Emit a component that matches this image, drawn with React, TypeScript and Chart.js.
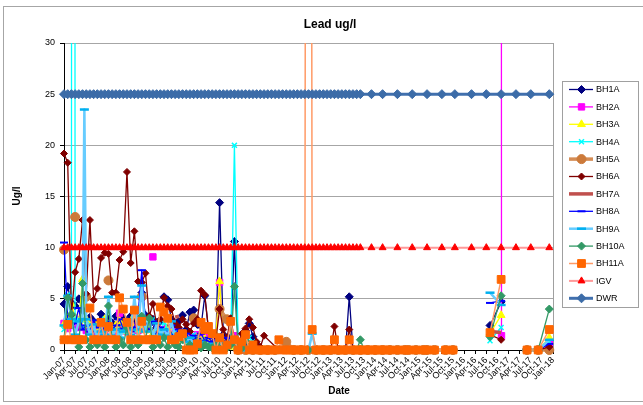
import React, { useEffect, useRef } from "react";
import { Chart, registerables } from "chart.js";
import { drawPoint } from "chart.js/helpers";

Chart.register(...registerables);

// x values are months counted from Jan-07
const quarterLabels = [
  "Jan-07", "Apr-07", "Jul-07", "Oct-07", "Jan-08", "Apr-08", "Jul-08", "Oct-08",
  "Jan-09", "Apr-09", "Jul-09", "Oct-09", "Jan-10", "Apr-10", "Jul-10", "Oct-10",
  "Jan-11", "Apr-11", "Jul-11", "Oct-11", "Jan-12", "Apr-12", "Jul-12", "Oct-12",
  "Jan-13", "Apr-13", "Jul-13", "Oct-13", "Jan-14", "Apr-14", "Jul-14", "Oct-14",
  "Jan-15", "Apr-15", "Jul-15", "Oct-15", "Jan-16", "Apr-16", "Jul-16", "Oct-16",
  "Jan-17", "Apr-17", "Jul-17", "Oct-17", "Jan-18",
];

const allMonths = [
  0, 1, 2, 3, 4, 5, 6, 7, 8, 9, 10, 11, 12, 13, 14, 15, 16, 17, 18, 19,
  20, 21, 22, 23, 24, 25, 26, 27, 28, 29, 30, 31, 32, 33, 34, 35, 36, 37, 38, 39,
  40, 41, 42, 43, 44, 45, 46, 47, 48, 49, 50, 51, 52, 53, 54, 55, 56, 57, 58, 59,
  60, 61, 62, 63, 64, 65, 66, 67, 68, 69, 70, 71, 72, 73, 74, 75, 76, 77, 78, 79,
  80, 81, 82, 83, 84, 85, 86, 87, 88,
];
const earlyMonths = allMonths.slice(0, 55);

const bh1aMonths = [...earlyMonths, 58, 62, 66, 70, 73, 76, 77, 78, 82, 86, 100, 115, 118, 122, 125, 128, 131];
const bh1aValues = [
  4.5, 6.2, 4.6, 4.3, 5.0, 3.9, 3.0, 3.2, 2.8, 2.6,
  3.5, 2.9, 3.0, 2.6, 3.3, 2.4, 3.1, 2.8, 3.3, 2.7,
  3.2, 5.6, 3.4, 2.5, 3.0, 2.2, 2.8, 5.2, 4.9, 3.0,
  2.4, 2.8, 3.4, 2.0, 3.7, 3.9, 2.5, 2.3, 5.3, 2.0,
  1.2, 0.8, 14.4, 1.5, 0.9, 1.2, 10.6, 0.6, 0.5, 1.9,
  2.6, 1.3, 0.5, 0, 0,
  0, 0, 0, 0, 0, 0, 5.2, 0, 0, 0, null, 2.4, 4.7, null, 0, 0, 0.9,
];

const bh2aMonths = [...earlyMonths, 58, 66, 74, 82, 100, 117.8, 118.1, 122, 125, 128, 131];
const bh2aValues = [
  2.6, 2.1, 2.4, 3.0, 2.2, null, 1.9, 2.5, 2.0, 1.7,
  2.2, 1.9, 2.4, 2.1, 1.7, 3.6, 2.0, 1.8, 2.4, 2.2,
  1.9, 2.6, 2.0, null, 9.1, null, 1.8, 2.0, 2.2, 1.5,
  1.8, 1.4, 1.6, 1.2, 1.0, 1.3, 1.5, 1.1, 1.4, 1.0,
  0.8, 1.2, 6.6, 1.0, 0.8, 0.5, 1.4, 0.5, 0, 0,
  0, 0, 0, 0, 0,
  0, 0, 0, 0, null, 320, 1.4, null, 0, 0, 0.6,
];

const bh3aMonths = [...earlyMonths, 100, 115, 118, 122, 125, 128, 131];
const bh3aValues = [
  2.5, 3.0, 4.5, 3.2, 2.8, 6.9, 3.0, 2.4, 2.0, 2.6,
  2.2, 3.0, 2.5, 2.0, 2.4, 2.8, 2.1, 1.8, 2.6, 3.4,
  2.0, 2.4, 1.9, 2.2, 1.6, 2.0, 1.5, 1.8, 2.2, 1.4,
  1.2, 1.6, 1.0, 1.3, 0.8, 1.0, 1.2, 0.9, 1.1, 0.6,
  0.8, 1.5, 6.7, 1.0, 0.5, 0.3, 0.5, 0.2, 0, 0,
  0, 0, 0, 0, 0,
  null, 1.6, 3.4, null, 0, 0, 1.2,
];

const bh4aMonths = [0, 1, 2, 2.5, ...earlyMonths.slice(3), 100, 115, 118, 122, 125, 128, 131];
const bh4aValues = [
  2.0, 5.4, 3.0, 420,
  2.8, 3.0, 2.2, 2.5, 1.8, 2.0, 1.5, 2.2, 3.0, 2.6,
  1.8, 2.0, 1.5, 2.2, 1.8, 2.5, 2.0, 1.6, 3.0, 2.4,
  3.0, 3.0, 2.0, 1.6, 2.7, 2.0, 1.5, 1.8, 1.2, 1.0,
  0.5, 0.8, 1.5, 0.5, 0.3, 0.8, 0.5, 0.2, 0.5, 1.0,
  0.5, 0.3, 0.8, 20.0, 0.5, 0.2, 0.6, 1.2, 0.8, 0,
  0, 0,
  null, 0.9, 2.2, null, 0, 0, 0.8,
];

const bh5aMonths = [
  0, 1, 3, 4, 6, 7, 12, 13, 21, 22, 35, 36, 42, 44, 47, 49, 51, 53, 55, 57,
  60, 62, 64, 66, 68, 70, 72, 74, 76, 78, 80, 82, 84, 86, 88, 90, 92, 93, 95, 97,
  98, 100, 103, 105, 110, 125, 128, 131,
];
const bh5aValues = [
  9.8, null, 13.0, null, 5.2, null, 6.8, null, 5.2, null, 3.1, null, 4.0, 3.0, 0, 0, 0, 0, 0, 0,
  0.8, 0, 0, 0, 0, 0, 0, 0, 0, 0, 0, 0, 0, 0, 0, 0, 0, 0, 0, 0,
  0, 0, 0, 0, null, 0, 0, 0,
];

const bh6aMonths = [...earlyMonths, 58, 62, 66, 70, 72, 73, 74, 76, 77, 78, 82, 86, 100, 115, 118, 122, 125, 128, 131];
const bh6aValues = [
  19.2, 18.3, 3.4, 7.6, 8.9, 12.7, 5.5, 12.7, 4.9, 6.0,
  9.0, 9.5, 9.4, 5.6, 5.6, 8.8, 9.6, 17.4, 8.5, 11.6,
  6.7, 6.6, 7.5, 3.3, 4.5, 2.5, 3.0, 5.1, 4.3, 4.0,
  2.6, 2.2, 3.0, 2.5, 1.8, 2.6, 3.0, 5.8, 5.4, 2.0,
  1.5, 1.0, 4.0, 2.0, 1.2, 3.1, 1.0, 0.5, 1.6, 2.1,
  3.0, 2.2, 0.8, 0.3, 1.4,
  0, 0, 0, 0, 0, 2.3, 0, 0, 2.0, 0, 0, 0, null, 1.5, 1.0, null, 0, 0, 0.3,
];

const bh7aMonths = [30, 31, 40, 115, 118];
const bh7aValues = [3.2, 3.3, null, 1.8, 1.7];

const bh8aMonths = [...earlyMonths, 100, 115, 118, 122, 125, 128, 131];
const bh8aValues = [
  10.5, 3.0, 2.2, 2.6, 4.1, 2.0, 2.4, 1.8, 2.9, 2.2,
  2.5, 1.9, 2.8, 2.0, 2.4, 3.0, 2.1, 2.6, 1.8, 2.2,
  3.5, 7.8, 2.5, 2.0, 2.8, 1.6, 2.2, 2.0, 1.7, 2.4,
  1.5, 2.0, 1.2, 1.6, 1.0, 1.4, 1.1, 1.6, 0.9, 1.2,
  0.8, 1.0, 1.5, 0.7, 1.2, 0.5, 1.0, 0.4, 0.2, 0,
  0.5, 0, 0, 0, 0,
  null, 4.6, 4.8, null, 0, 0, 0.6,
];

const bh9aMonths = [...earlyMonths.slice(0, 6), 5.5, ...earlyMonths.slice(6), 66, 67, 68, 100, 115, 118, 122, 125, 128, 131];
const bh9aValues = [
  2.4, 5.3, 3.0, 1.5, 2.8, 3.0, 23.5,
  3.0, 1.5, 2.5, 1.2, 1.8, 1.5, 5.2, 1.4, 2.0, 1.2,
  1.8, 2.0, 1.5, 5.2, 2.0, 6.3, 1.8, 3.0, 1.2, 2.6,
  1.5, 2.0, 1.4, 2.8, 1.2, 1.5, 1.0, 0.8, 1.2, 0.6,
  0.5, 0.8, 0.4, 0.6, 0.3, 0.5, 0.8, 0.4, 0.2, 0.5,
  1.0, 0.2, 0, 0, 0, 0, 0, 0, 0,
  0, 1.6, 0, null, 5.6, 4.4, null, 0, 0, 1.0,
];

const bh10aMonths = [...earlyMonths, 58, 62, 66, 70, 74, 78, 79, 80, 81, 84, 100, 115, 118, 122, 125, 128, 131];
const bh10aValues = [
  1.0, 5.1, 3.5, 1.0, 0.3, 6.5, 1.0, 0.3, 1.0, 0.5,
  1.0, 0.3, 4.3, 1.0, 0.3, 1.0, 0.5, 2.2, 0.3, 1.0,
  0.5, 3.3, 1.0, 3.1, 0.3, 1.0, 0.5, 1.2, 0.3, 1.0,
  0.5, 0.3, 1.0, 0.2, 0.5, 0.3, 0.8, 0.2, 0.5, 0.3,
  0.2, 0.5, 1.0, 0.3, 0.2, 0.5, 6.2, 0.3, 0.2, 0.9,
  0.3, 0, 0, 0, 0,
  0, 0, 0, 0, 0, 0, 0, 1.0, 0, 0, null, 1.3, 5.3, null, 0, 0, 4.0,
];

const bh11aMonths = [...allMonths, 90, 92, 93, 95, 97, 98, 100, 103, 105, 110, 115, 118, 122, 125, 128, 131];
const bh11aValues = [
  1.0, 2.5, 1.0, 1.0, 1.0, 1.0, null, 4.1, 1.0, 1.0,
  2.7, 1.0, 2.3, 1.0, 1.0, 5.1, 4.0, 2.7, 1.0, 3.9,
  1.0, 2.8, 1.0, 1.0, 1.0, 1.0, 4.2, 3.7, 3.1, 1.0,
  1.0, 1.3, 1.6, 0, 0, 0, 0.6, 2.7, 2.0, 2.3,
  1.6, 0, 1.2, 0, 0.5, 2.8, 1.0, 0, 0.8, 1.5,
  0, 0.5, 0, 0, 0, 0, 0, 0, 1.0, 0,
  0, 0, 0, 0, 0, 0, 250, 2.0, 0, 0,
  0, 0, 0, 1.0, 0, 0, 0, 1.0, 0, 0,
  0, 0, 0, 0, 0, 0, 0, 0, 0,
  0, 0, 0, 0, 0, 0, 0, 0, 0, null, 1.7, 6.9, null, 0, 0, 2.0,
];

// guideline values (ug/l) repeated at every plotted date
const IGV_LIMIT = 10;
const DWR_LIMIT = 25;
const limitMonths = [...allMonths.slice(0, 81), 83, 86, 90, 94, 98, 102, 105.5, 110, 114, 118, 122, 126, 131];
const igvValues = limitMonths.map(() => IGV_LIMIT);
const dwrValues = limitMonths.map(() => DWR_LIMIT);

type SeriesStyle = {
  line: string;
  width: number;
  marker: string;
  point: string | false;
  radius: number;
  pointWidth: number;
};

const seriesStyles: Record<string, SeriesStyle> = {
  BH1A: { line: "#000080", width: 1.3, marker: "#000080", point: "rectRot", radius: 4, pointWidth: 1 },
  BH2A: { line: "#FF00FF", width: 1.3, marker: "#FF00FF", point: "rect", radius: 4.5, pointWidth: 1 },
  BH3A: { line: "#FFFF00", width: 1.3, marker: "#FFFF00", point: "triangle", radius: 4.5, pointWidth: 1 },
  BH4A: { line: "#00FFFF", width: 1.3, marker: "#00FFFF", point: "crossRot", radius: 3.5, pointWidth: 1.5 },
  BH5A: { line: "#D58D55", width: 3.5, marker: "#CC7A3A", point: "circle", radius: 4.5, pointWidth: 1 },
  BH6A: { line: "#800000", width: 1.3, marker: "#800000", point: "rectRot", radius: 3.5, pointWidth: 1 },
  BH7A: { line: "#C0504D", width: 3.5, marker: "#C0504D", point: false, radius: 0, pointWidth: 0 },
  BH8A: { line: "#0000FF", width: 1.3, marker: "#0000FF", point: "line", radius: 4, pointWidth: 2 },
  BH9A: { line: "#66CCFF", width: 2.5, marker: "#00B0F0", point: "line", radius: 4.5, pointWidth: 2.5 },
  BH10A: { line: "#339966", width: 1.3, marker: "#339966", point: "rectRot", radius: 4, pointWidth: 1 },
  BH11A: { line: "#FF9A66", width: 1.5, marker: "#FF6600", point: "rect", radius: 5.5, pointWidth: 1 },
  IGV: { line: "#FF9999", width: 2, marker: "#FF0000", point: "triangle", radius: 4, pointWidth: 1 },
  DWR: { line: "#4170AE", width: 3, marker: "#3C6CA8", point: "rectRot", radius: 4.5, pointWidth: 1 },
};

const series = [
  { name: "BH1A", months: bh1aMonths, values: bh1aValues },
  { name: "BH2A", months: bh2aMonths, values: bh2aValues },
  { name: "BH3A", months: bh3aMonths, values: bh3aValues },
  { name: "BH4A", months: bh4aMonths, values: bh4aValues },
  { name: "BH5A", months: bh5aMonths, values: bh5aValues },
  { name: "BH6A", months: bh6aMonths, values: bh6aValues },
  { name: "BH7A", months: bh7aMonths, values: bh7aValues },
  { name: "BH8A", months: bh8aMonths, values: bh8aValues },
  { name: "BH9A", months: bh9aMonths, values: bh9aValues },
  { name: "BH10A", months: bh10aMonths, values: bh10aValues },
  { name: "BH11A", months: bh11aMonths, values: bh11aValues },
  { name: "IGV", months: limitMonths, values: igvValues },
  { name: "DWR", months: limitMonths, values: dwrValues },
];

const FONT = "Arial, 'Liberation Sans', sans-serif";

const decorations = {
  id: "decorations",
  beforeDraw(chart: any) {
    const { ctx, width, height } = chart;
    ctx.save();
    ctx.fillStyle = "#ffffff";
    ctx.fillRect(0, 0, width, height);
    ctx.strokeStyle = "#A6A6A6";
    ctx.lineWidth = 1;
    ctx.strokeRect(3.5, 6.5, 645, 395);
    ctx.restore();
  },
  beforeDatasetsDraw(chart: any) {
    const { ctx, chartArea } = chart;
    ctx.save();
    ctx.strokeStyle = "#A0A0A0";
    ctx.lineWidth = 1;
    ctx.beginPath();
    ctx.moveTo(Math.round(chartArea.right) + 0.5, chartArea.top);
    ctx.lineTo(Math.round(chartArea.right) + 0.5, chartArea.bottom);
    ctx.stroke();
    ctx.restore();
  },
  afterDraw(chart: any) {
    const { ctx } = chart;
    ctx.save();
    ctx.fillStyle = "#000";
    ctx.textAlign = "center";
    ctx.textBaseline = "alphabetic";
    ctx.font = `bold 12px ${FONT}`;
    ctx.fillText("Lead ug/l", 330, 28);
    ctx.font = `bold 10px ${FONT}`;
    ctx.fillText("Date", 339, 394);
    ctx.save();
    ctx.translate(20, 196);
    ctx.rotate(-Math.PI / 2);
    ctx.fillText("Ug/l", 0, 0);
    ctx.restore();

    // legend
    ctx.strokeStyle = "#A0A0A0";
    ctx.lineWidth = 1;
    ctx.strokeRect(562.5, 81.5, 76, 226);
    ctx.textAlign = "left";
    ctx.textBaseline = "middle";
    ctx.font = `9px ${FONT}`;
    series.forEach((s, i) => {
      const st = seriesStyles[s.name];
      const y = 89.5 + i * 17.4;
      ctx.strokeStyle = st.line;
      ctx.lineWidth = st.width;
      ctx.beginPath();
      ctx.moveTo(569, y);
      ctx.lineTo(593, y);
      ctx.stroke();
      if (st.point) {
        ctx.fillStyle = st.marker;
        ctx.strokeStyle = st.marker;
        ctx.lineWidth = st.pointWidth;
        drawPoint(ctx, { pointStyle: st.point, radius: st.radius, rotation: 0, borderWidth: st.pointWidth } as any, 581.5, y);
      }
      ctx.fillStyle = "#000";
      ctx.fillText(s.name, 596, y + 0.5);
    });
    ctx.restore();
  },
};

export default function App() {
  const canvasRef = useRef<HTMLCanvasElement | null>(null);

  useEffect(() => {
    if (!canvasRef.current) return;
    Chart.defaults.font.family = FONT;

    const datasets = series.map((s, i) => {
      const st = seriesStyles[s.name];
      return {
        label: s.name,
        data: s.months.map((m, k) => ({ x: m, y: s.values[k] })),
        borderColor: st.line,
        backgroundColor: st.marker,
        borderWidth: st.width,
        borderJoinStyle: "round" as const,
        pointStyle: st.point || "circle",
        pointRadius: st.point ? st.radius : 0,
        pointBackgroundColor: st.marker,
        pointBorderColor: st.marker,
        pointBorderWidth: st.pointWidth,
        spanGaps: false,
        tension: 0,
        order: series.length - i,
        clip: { left: 8, top: 0, right: 8, bottom: 8 },
      };
    });

    const chart = new Chart(canvasRef.current, {
      type: "line",
      data: { datasets: datasets as any },
      options: {
        responsive: false,
        devicePixelRatio: 1,
        animation: false,
        events: [],
        layout: { padding: { left: 0, top: 43, right: 90, bottom: 0 } },
        plugins: { legend: { display: false }, tooltip: { enabled: false } },
        scales: {
          x: {
            type: "linear",
            min: 0,
            max: 132,
            afterFit: (scale: any) => {
              scale.height = 55;
            },
            border: { color: "#000", width: 1 },
            grid: { drawOnChartArea: false, drawTicks: true, tickLength: 4, color: "#000" },
            ticks: {
              stepSize: 3,
              autoSkip: false,
              maxRotation: 45,
              minRotation: 45,
              padding: 1,
              color: "#000",
              font: { size: 9, family: FONT },
              callback: (v: any) => quarterLabels[Math.round(Number(v) / 3)] ?? "",
            },
          },
          y: {
            type: "linear",
            min: 0,
            max: 30,
            afterFit: (scale: any) => {
              scale.width = 64;
            },
            border: { color: "#000", width: 1 },
            grid: {
              color: (c: any) => (c.tick && c.tick.value === 0 ? "rgba(0,0,0,0)" : "#A6A6A6"),
              tickColor: "#000",
              tickLength: 4,
            },
            ticks: { stepSize: 5, padding: 5, color: "#000", font: { size: 9, family: FONT } },
          },
        },
      },
      plugins: [decorations],
    });

    return () => chart.destroy();
  }, []);

  return (
    <div style={{ position: "fixed", left: 0, top: 0, width: 643, height: 405, background: "#fff" }}>
      <canvas ref={canvasRef} width={643} height={405} style={{ display: "block", width: 643, height: 405 }} />
    </div>
  );
}
